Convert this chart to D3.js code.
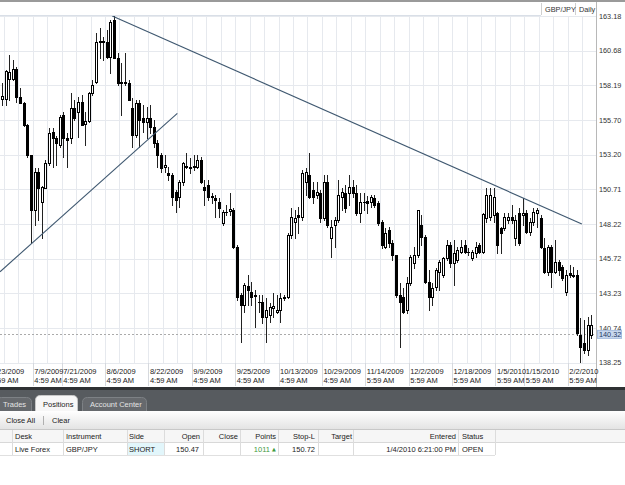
<!DOCTYPE html>
<html>
<head>
<meta charset="utf-8">
<script src="https://cdn.jsdelivr.net/npm/d3@7"></script>
<style>
  body { margin: 0; background: #fff; }
  svg { display: block; font-family: "Liberation Sans", Arial, sans-serif; }
</style>
</head>
<body>
<div id="chart"></div>
<script>
// GBP/JPY daily candles, bar 0 = leftmost visible bar
const opens = [
  157.21, 157.21, 158.65, 158.65, 159.37, 157.36, 156.92, 155.34, 153.18, 149.23,
  151.96, 149.81, 150.81, 152.61, 154.84, 154.41, 153.90, 156.06, 154.41, 154.41,
  156.56, 156.28, 157.00, 155.41, 155.63, 157.64, 158.43, 161.31, 161.38, 161.31,
  160.23, 162.89, 160.16, 158.36, 158.43, 158.36, 156.56, 154.62, 156.92, 155.84,
  155.56, 155.84, 155.20, 154.05, 153.18, 152.32, 151.89, 151.75, 150.52, 150.16,
  151.24, 152.32, 152.25, 152.32, 152.32, 152.82, 150.88, 151.03, 150.24, 150.09,
  149.81, 148.29, 149.09, 149.16, 149.23, 146.57, 143.12, 142.40, 143.76, 143.33,
  143.04, 142.61, 142.61, 141.53, 141.68, 142.18, 141.89, 142.04, 142.90, 142.97,
  147.43, 148.37, 148.87, 148.73, 151.24, 151.75, 150.67, 150.31, 150.45, 148.65,
  151.24, 147.22, 148.15, 148.51, 150.16, 150.45, 150.45, 150.88, 150.45, 149.01,
  149.81, 149.88, 149.81, 150.09, 149.73, 148.37, 146.57, 147.79, 146.86, 146.00,
  143.12, 142.97, 142.04, 143.98, 145.42, 146.00, 148.15, 147.29, 144.05, 142.97,
  143.69, 144.77, 144.55, 145.78, 146.71, 145.42, 145.63, 146.21, 146.71, 146.21,
  145.78, 146.14, 146.71, 146.21, 148.65, 148.73, 148.87, 149.01, 147.93, 147.93,
  148.51, 148.73, 147.22, 149.01, 148.87, 149.01, 147.65, 148.37, 149.01, 148.65,
  146.50, 144.77, 146.57, 144.77, 145.49, 145.13, 143.33, 144.70, 144.55, 144.55,
  140.24, 139.67, 139.16, 140.24
];
const highs = [
  158.36, 159.30, 160.37, 160.02, 159.51, 158.00, 157.00, 155.41, 153.18, 152.25,
  152.25, 150.95, 152.82, 155.13, 155.13, 154.55, 156.06, 156.28, 154.77, 157.64,
  157.14, 157.36, 157.50, 156.28, 157.71, 158.58, 161.96, 162.32, 161.67, 162.17,
  162.89, 163.18, 160.52, 159.80, 160.52, 158.58, 157.28, 157.14, 157.14, 156.78,
  156.64, 156.78, 155.70, 154.26, 153.33, 153.18, 152.32, 151.89, 150.67, 151.39,
  152.68, 153.33, 152.97, 153.18, 153.18, 153.04, 151.39, 151.39, 150.45, 150.31,
  150.09, 149.23, 149.59, 150.45, 149.37, 146.71, 143.26, 143.98, 144.55, 144.05,
  143.48, 143.12, 143.12, 142.90, 142.54, 143.26, 143.12, 143.26, 143.12, 147.57,
  149.37, 149.23, 149.44, 152.10, 152.25, 153.33, 151.24, 151.24, 150.67, 151.75,
  151.75, 148.51, 148.73, 151.39, 150.81, 151.03, 151.75, 151.39, 151.03, 150.45,
  150.45, 150.24, 150.31, 150.31, 149.88, 148.51, 147.93, 148.01, 147.07, 146.00,
  143.98, 143.62, 144.41, 146.00, 146.57, 149.23, 148.87, 147.43, 144.91, 143.98,
  145.06, 145.63, 145.85, 147.07, 146.93, 147.07, 146.57, 147.07, 147.07, 146.50,
  146.35, 146.93, 146.86, 149.01, 150.81, 150.81, 150.81, 149.09, 148.01, 149.01,
  149.01, 149.59, 148.87, 149.37, 150.09, 149.23, 148.65, 149.37, 149.37, 148.87,
  147.22, 146.71, 146.71, 147.07, 145.63, 145.27, 144.91, 145.27, 145.13, 144.91,
  141.46, 141.32, 141.53, 141.68
];
const lows = [
  156.78, 156.78, 157.14, 158.58, 157.00, 156.92, 155.27, 153.04, 146.86, 148.15,
  148.51, 147.22, 150.81, 152.46, 152.32, 152.46, 153.76, 153.04, 152.32, 154.05,
  155.70, 154.48, 155.34, 153.90, 155.56, 157.50, 158.36, 160.16, 160.02, 160.16,
  159.08, 160.16, 158.22, 156.06, 158.22, 157.14, 153.76, 154.48, 153.76, 154.84,
  154.41, 154.77, 153.76, 152.32, 151.96, 151.96, 151.39, 149.59, 149.09, 149.44,
  151.03, 152.25, 151.89, 152.10, 152.25, 151.17, 149.59, 149.95, 149.73, 148.73,
  148.73, 148.15, 148.87, 148.87, 146.50, 142.76, 139.74, 141.89, 142.40, 142.40,
  140.81, 141.89, 141.10, 139.74, 141.17, 141.53, 141.82, 141.17, 142.76, 142.90,
  147.22, 147.22, 147.57, 148.51, 150.31, 150.09, 149.73, 150.09, 148.37, 148.51,
  148.01, 145.85, 146.57, 148.37, 149.23, 149.09, 149.59, 150.16, 148.87, 148.37,
  149.23, 149.01, 149.44, 149.44, 148.15, 146.50, 146.50, 146.57, 145.63, 142.97,
  139.38, 141.82, 141.82, 143.84, 145.06, 145.85, 146.71, 143.98, 142.04, 142.40,
  143.48, 143.48, 144.41, 145.63, 145.13, 143.84, 145.49, 146.14, 146.14, 146.00,
  145.63, 145.85, 146.14, 146.14, 148.37, 148.51, 148.37, 146.14, 146.14, 147.79,
  148.29, 148.29, 146.71, 146.71, 148.15, 147.57, 147.43, 148.15, 148.01, 146.50,
  144.70, 144.55, 143.69, 144.70, 144.55, 144.20, 143.12, 144.41, 144.41, 140.24,
  138.30, 138.95, 138.80, 140.02
];
const closes = [
  157.43, 159.22, 159.15, 159.37, 157.36, 156.92, 155.34, 153.18, 149.23, 151.96,
  150.81, 150.88, 152.61, 154.77, 154.41, 154.05, 155.92, 154.41, 154.26, 156.56,
  155.84, 157.00, 155.34, 155.63, 157.64, 158.22, 161.31, 161.38, 161.31, 160.23,
  162.75, 160.16, 158.36, 158.43, 158.36, 157.14, 154.62, 156.92, 155.70, 155.56,
  155.84, 155.20, 154.05, 153.18, 152.25, 152.46, 151.75, 150.16, 149.95, 151.24,
  152.61, 152.39, 152.32, 152.39, 152.82, 151.24, 150.67, 150.16, 150.16, 149.95,
  149.37, 149.09, 149.07, 149.30, 146.57, 142.97, 142.40, 143.84, 143.48, 142.97,
  143.12, 142.58, 141.53, 142.04, 142.25, 142.33, 142.04, 142.90, 142.97, 147.43,
  148.73, 148.65, 148.73, 151.89, 151.96, 150.16, 150.16, 150.52, 148.65, 151.24,
  148.15, 148.01, 148.51, 150.31, 150.52, 149.37, 150.88, 150.45, 149.01, 149.81,
  149.79, 149.73, 150.16, 149.59, 148.29, 146.71, 147.57, 146.86, 146.00, 143.12,
  142.61, 141.89, 143.98, 145.85, 146.00, 149.23, 147.29, 144.05, 142.97, 143.62,
  144.91, 145.49, 145.78, 146.71, 145.42, 146.14, 146.35, 146.57, 146.21, 146.19,
  146.21, 146.57, 146.21, 148.94, 150.31, 150.31, 150.16, 146.71, 147.57, 148.73,
  148.73, 148.51, 148.51, 146.86, 149.01, 147.65, 148.37, 149.09, 149.23, 146.57,
  144.77, 146.57, 144.77, 145.49, 144.91, 144.34, 144.55, 144.55, 144.48, 140.38,
  139.38, 139.16, 140.96, 140.96
];

const priceTicks = [163.18, 160.68, 158.19, 155.70, 153.20, 150.71, 148.22, 145.72, 143.23, 140.74, 138.25];
const dateBars   = [-3, 9, 17, 29, 41, 53, 65, 77, 89, 101, 113, 125, 137, 145, 157];
const dateLabels = ["6/23/2009", "7/9/2009", "7/21/2009", "8/6/2009", "8/22/2009", "9/9/2009", "9/25/2009",
                    "10/13/2009", "10/29/2009", "11/14/2009", "12/2/2009", "12/18/2009", "1/5/2010", "1/15/2010", "2/2/2010"];
const timeLabels = ["4:59 AM", "4:59 AM", "4:59 AM", "4:59 AM", "4:59 AM", "4:59 AM", "4:59 AM",
                    "4:59 AM", "4:59 AM", "5:59 AM", "5:59 AM", "5:59 AM", "5:59 AM", "5:59 AM", "5:59 AM"];
const lastPrice = 140.32;

// trend lines drawn by the user: [bar, price] pairs
const resistanceLine = [[30.5, 163.18], [160.4, 148.22]];
const supportLine    = [[-0.55, 144.79], [48.5, 156.18]];

// positions grid below the chart
const tabs = ["Trades", "Positions", "Account Center"];
const columns = ["Desk", "Instrument", "Side", "Open", "Close", "Points", "Stop-L", "Target", "Entered", "Status"];
const row     = ["Live Forex", "GBP/JPY", "SHORT", "150.47", "", "1011", "150.72", "", "1/4/2010 6:21:00 PM", "OPEN"];

const W = 625, H = 485;
const plotTop = 16, plotBottom = 363, plotRight = 596;

const svg = d3.select("#chart").append("svg")
    .attr("width", W)
    .attr("height", H);

const x = d3.scaleLinear().domain([0, 163]).range([2, 2 + 163 * 3.615]);
const y = d3.scaleLinear().domain([138.25, 163.18]).range([362.7, 16]);

svg.append("defs").append("clipPath").attr("id", "clip")
  .append("rect").attr("x", 0).attr("y", plotTop).attr("width", plotRight).attr("height", plotBottom - plotTop);

// top border and header strip
svg.append("rect").attr("x", 0).attr("y", 0).attr("width", W).attr("height", 2).attr("fill", "#9a9a9a");
svg.append("line").attr("x1", 0).attr("x2", 541).attr("y1", 15.5).attr("y2", 15.5)
  .attr("stroke", "#d9dfe7");
[541.5, 575.5].forEach(sx => {
  svg.append("line").attr("x1", sx).attr("x2", sx).attr("y1", 3).attr("y2", 15).attr("stroke", "#d0d0d0");
});
svg.append("text").attr("x", 545).attr("y", 9).attr("dy", "0.35em")
  .attr("font-size", "7.3px").attr("fill", "#333").text("GBP/JPY");
svg.append("text").attr("x", 579).attr("y", 9).attr("dy", "0.35em")
  .attr("font-size", "7.3px").attr("fill", "#333").text("Daily");

// grid
const grid = svg.append("g");
grid.selectAll("line.h").data(priceTicks).join("line")
  .attr("x1", 0).attr("x2", plotRight)
  .attr("y1", d => Math.round(y(d)) + 0.5).attr("y2", d => Math.round(y(d)) + 0.5)
  .attr("stroke", "#e6e9ee");
grid.selectAll("line.v").data(d3.range(1, 164, 4)).join("line")
  .attr("x1", d => Math.round(x(d - 0.5)) + 0.5).attr("x2", d => Math.round(x(d - 0.5)) + 0.5)
  .attr("y1", plotTop).attr("y2", plotBottom)
  .attr("stroke", "#e6e9ee");

// date ticks in the label strip
grid.selectAll("line.t").data(dateBars).join("line")
  .attr("x1", d => Math.round(x(d - 0.5)) + 0.5).attr("x2", d => Math.round(x(d - 0.5)) + 0.5)
  .attr("y1", plotBottom).attr("y2", 386)
  .attr("stroke", "#d6d9de");

// last price dashed line
svg.append("line")
  .attr("x1", 0).attr("x2", plotRight)
  .attr("y1", Math.round(y(lastPrice)) + 0.5).attr("y2", Math.round(y(lastPrice)) + 0.5)
  .attr("stroke", "#aaa").attr("stroke-dasharray", "2,2");

// candles
const bars = d3.range(opens.length);
const plot = svg.append("g").attr("clip-path", "url(#clip)");
const cx = i => Math.round(x(i));

plot.selectAll("line.wick").data(bars).join("line")
  .attr("x1", i => cx(i) + 0.5).attr("x2", i => cx(i) + 0.5)
  .attr("y1", i => Math.round(y(highs[i]))).attr("y2", i => Math.round(y(lows[i])) + 1)
  .attr("stroke", "#222");

plot.selectAll("rect.body").data(bars).join("rect")
  .each(function(i) {
    const up = closes[i] >= opens[i];
    const top = Math.round(y(Math.max(opens[i], closes[i])));
    const bot = Math.round(y(Math.min(opens[i], closes[i])));
    const h = bot - top;
    const r = d3.select(this);
    if (up) {
      r.attr("x", cx(i) - 0.5).attr("y", top + 0.5)
       .attr("width", 2).attr("height", Math.max(1, h))
       .attr("fill", "#fff").attr("stroke", "#000");
    } else {
      r.attr("x", cx(i) - 1).attr("y", top)
       .attr("width", 3).attr("height", Math.max(1, h + 1))
       .attr("fill", "#000");
    }
  });

// trend lines
const line = d3.line().x(d => x(d[0])).y(d => y(d[1]));
[resistanceLine, supportLine].forEach(pts => {
  plot.append("path").attr("d", line(pts))
    .attr("fill", "none").attr("stroke", "#3f5870").attr("stroke-width", 1.1);
});

// price axis on the right
svg.append("line").attr("x1", plotRight + 0.5).attr("x2", plotRight + 0.5)
  .attr("y1", 2).attr("y2", 387).attr("stroke", "#b8b8b8");
svg.selectAll("text.py").data(priceTicks).join("text")
  .attr("x", 599).attr("y", d => y(d)).attr("dy", "0.35em")
  .attr("font-size", "7.3px").attr("fill", "#333")
  .text(d => d.toFixed(2));

const ly = y(lastPrice);
svg.append("rect").attr("x", 597.5).attr("y", ly - 3.5).attr("width", 24).attr("height", 8)
  .attr("fill", "#c9d8ee").attr("stroke", "#a9bfdf");
svg.append("text").attr("x", 599).attr("y", ly + 0.5).attr("dy", "0.35em")
  .attr("font-size", "7.3px").attr("fill", "#1e3a66").text(lastPrice.toFixed(2));

// date labels
const dl = svg.append("g").attr("font-size", "7.5px").attr("fill", "#222");
dl.selectAll("text.d").data(dateBars).join("text")
  .attr("x", d => x(d - 0.5) + 1.5).attr("y", 371).attr("dy", "0.35em")
  .text((d, i) => dateLabels[i]);
dl.selectAll("text.t").data(dateBars).join("text")
  .attr("x", d => x(d - 0.5) + 1.5).attr("y", 380).attr("dy", "0.35em")
  .text((d, i) => timeLabels[i]);

// bottom panel: tab strip
svg.append("rect").attr("x", 0).attr("y", 387).attr("width", W).attr("height", 3).attr("fill", "#2f3133");
svg.append("rect").attr("x", 0).attr("y", 390).attr("width", W).attr("height", 21).attr("fill", "#575b5f");

const tabBox = [[-4, 36, 398], [35, 43, 396], [82, 65, 398]];
tabs.forEach((t, i) => {
  const [tx, tw, ty] = tabBox[i];
  const sel = i === 1;
  svg.append("path")
    .attr("d", `M${tx + 0.5},412 V${ty + 4.5} q0,-5 5,-5 H${tx + tw - 5.5} q5,0 5,5 V412`)
    .attr("fill", sel ? "#f7f7f7" : "#66696d")
    .attr("stroke", sel ? "#c8c8c8" : "#7d8185");
  svg.append("text").attr("x", tx + (i === 0 ? 7 : 8)).attr("y", 404).attr("dy", "0.35em")
    .attr("font-size", "7.5px").attr("fill", sel ? "#222" : "#e4e4e4").text(t);
});

// toolbar
const grad = svg.select("defs").append("linearGradient").attr("id", "tb").attr("x1", 0).attr("x2", 0).attr("y1", 0).attr("y2", 1);
grad.append("stop").attr("offset", "0%").attr("stop-color", "#ffffff");
grad.append("stop").attr("offset", "100%").attr("stop-color", "#e4e4e4");
svg.append("rect").attr("x", 0).attr("y", 411).attr("width", W).attr("height", 18).attr("fill", "url(#tb)");
svg.append("text").attr("x", 6).attr("y", 420.5).attr("dy", "0.35em").attr("font-size", "7.5px").attr("fill", "#222").text("Close All");
svg.append("line").attr("x1", 43.5).attr("x2", 43.5).attr("y1", 416).attr("y2", 425).attr("stroke", "#b0b0b0");
svg.append("text").attr("x", 52).attr("y", 420.5).attr("dy", "0.35em").attr("font-size", "7.5px").attr("fill", "#222").text("Clear");

// grid header + row
svg.append("rect").attr("x", 0).attr("y", 430).attr("width", W).attr("height", 12).attr("fill", "#f6f6f6");
svg.append("line").attr("x1", 0).attr("x2", W).attr("y1", 429.5).attr("y2", 429.5).attr("stroke", "#c8c8c8");
svg.append("line").attr("x1", 0).attr("x2", W).attr("y1", 442.5).attr("y2", 442.5).attr("stroke", "#d8d8d8");
svg.append("rect").attr("x", 127).attr("y", 443).attr("width", 37).attr("height", 12).attr("fill", "#e2f6fb");
svg.append("line").attr("x1", 0).attr("x2", 495).attr("y1", 455.5).attr("y2", 455.5).attr("stroke", "#e0e0e0");

const colSeps = [12, 63, 127, 164, 203, 240, 278, 318, 353, 458, 495];
svg.selectAll("line.cs").data(colSeps).join("line")
  .attr("x1", d => d + 0.5).attr("x2", d => d + 0.5)
  .attr("y1", 430).attr("y2", 455)
  .attr("stroke", "#dcdcdc");

// column text: [x, anchor]
const colPos = [[15, "start"], [66, "start"], [129, "start"], [200, "end"], [238, "end"],
                [276, "end"], [315, "end"], [352, "end"], [456, "end"], [462, "start"]];
const rowPos = [[15, "start"], [66, "start"], [129, "start"], [199, "end"], [238, "end"],
                [270, "end"], [315, "end"], [352, "end"], [456, "end"], [462, "start"]];
columns.forEach((c, i) => {
  svg.append("text").attr("x", colPos[i][0]).attr("y", 436.5).attr("dy", "0.35em")
    .attr("text-anchor", colPos[i][1]).attr("font-size", "7.5px").attr("fill", "#222").text(c);
});
row.forEach((v, i) => {
  svg.append("text").attr("x", rowPos[i][0]).attr("y", 449).attr("dy", "0.35em")
    .attr("text-anchor", rowPos[i][1]).attr("font-size", "7.5px")
    .attr("fill", i === 5 ? "#3f9a3f" : "#222").text(v);
});
svg.append("text").attr("x", 272).attr("y", 449).attr("dy", "0.35em")
  .attr("font-size", "5px").attr("fill", "#3f9a3f").attr("font-family", "DejaVu Sans").text("▲");
</script>
</body>
</html>
